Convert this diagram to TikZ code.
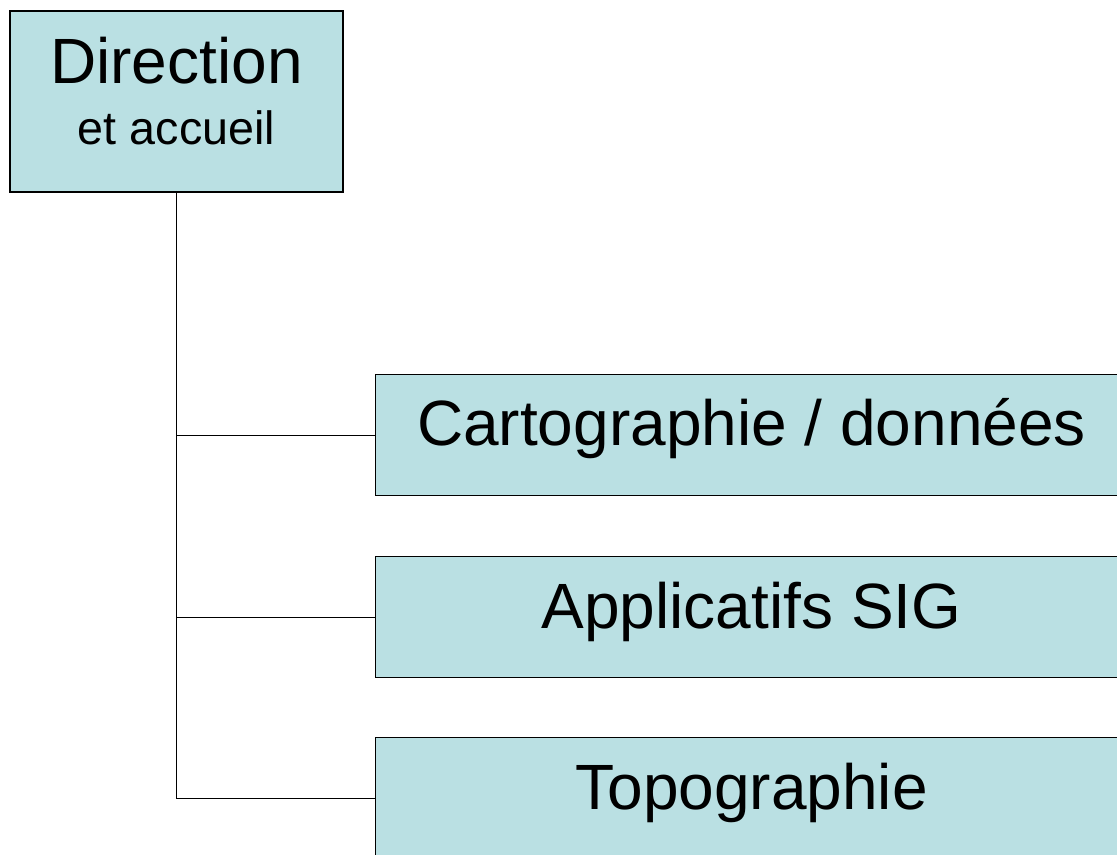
\documentclass[tikz,border=0pt]{standalone}
\usepackage{fontspec}
\setmainfont{Liberation Sans}
\definecolor{boxfill}{HTML}{BAE0E3}
\tikzset{
  box/.style={draw=black, line width=1.1pt, fill=boxfill, inner sep=0pt, rectangle},
  big/.style={font=\fontsize{48}{56}\selectfont, anchor=base, inner sep=0pt, text=black},
  small/.style={font=\fontsize{35}{42}\selectfont, anchor=base, inner sep=0pt, text=black},
  link/.style={draw=black, line width=1.1pt}
}
\begin{document}
\begin{tikzpicture}[x=0.75pt,y=-0.75pt]
\useasboundingbox (0,0) rectangle (1117,855);
\clip (0,0) rectangle (1117,855);
\node[box, minimum width=333*0.75pt, minimum height=181*0.75pt] (dir) at (176.5,101.5) {};
\node[big] (dirt) at (176.5,84) {Direction};
\node[small] (dira) at (176.5,145) {et accueil};
\node[box, minimum width=753*0.75pt, minimum height=121*0.75pt, anchor=north west] (carto) at (375,374) {};
\node[big] (cartot) at (751.5,445.7) {Cartographie / données};
\node[box, minimum width=753*0.75pt, minimum height=121*0.75pt, anchor=north west] (appli) at (375,556) {};
\node[big] (applit) at (751.5,628) {Applicatifs SIG};
\node[box, minimum width=753*0.75pt, minimum height=121*0.75pt, anchor=north west] (topo) at (375,737) {};
\node[big] (topot) at (751.5,809) {Topographie};
\coordinate (j1) at (dir.south |- carto.west);
\coordinate (j2) at (dir.south |- appli.west);
\coordinate (j3) at (dir.south |- topo.west);
\draw[link] (dir.south) -- (j3) -- (topo.west);
\draw[link] (j1) -- (carto.west);
\draw[link] (j2) -- (appli.west);
\end{tikzpicture}
\end{document}
